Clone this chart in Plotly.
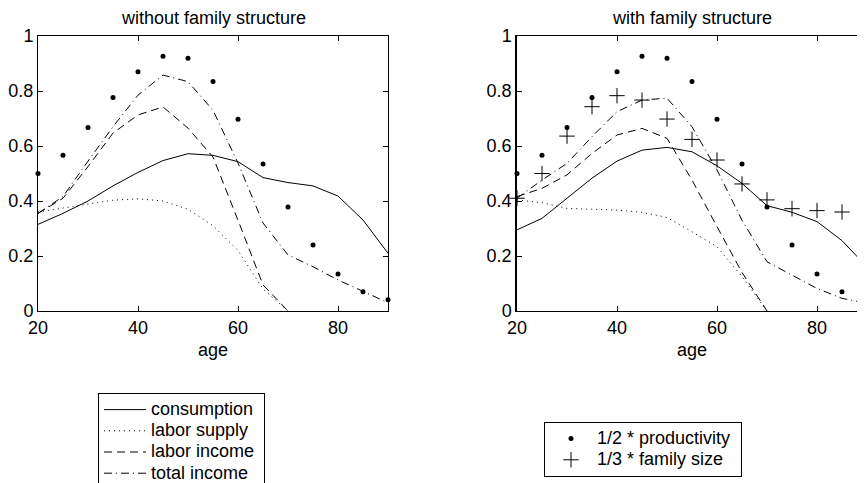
import plotly.graph_objects as go

# ---------------- data ----------------
age = [20, 25, 30, 35, 40, 45, 50, 55, 60, 65, 70, 75, 80, 85, 90]
age_work = [20, 25, 30, 35, 40, 45, 50, 55, 60, 65, 70]

productivity_half = [0.50, 0.566, 0.667, 0.776, 0.870, 0.926, 0.919, 0.835,
                     0.697, 0.535, 0.378, 0.240, 0.135, 0.070, 0.041]

# without family structure
cons_nf = [0.315, 0.355, 0.400, 0.455, 0.504, 0.547, 0.572, 0.566, 0.543,
           0.485, 0.467, 0.455, 0.418, 0.331, 0.210]
lsup_nf = [0.360, 0.375, 0.390, 0.403, 0.408, 0.400, 0.370, 0.310, 0.220,
           0.080, 0.0]
linc_nf = [0.355, 0.410, 0.525, 0.647, 0.713, 0.742, 0.665, 0.560, 0.330,
           0.095, 0.0]
tinc_nf = [0.355, 0.416, 0.545, 0.670, 0.785, 0.858, 0.834, 0.730, 0.538,
           0.320, 0.204, 0.161, 0.113, 0.070, 0.030]

# with family structure
cons_f = [0.295, 0.337, 0.410, 0.483, 0.545, 0.585, 0.595, 0.579, 0.528,
          0.464, 0.383, 0.359, 0.325, 0.256, 0.160]
lsup_f = [0.404, 0.394, 0.373, 0.371, 0.367, 0.359, 0.340, 0.288, 0.234,
          0.125, 0.0]
linc_f = [0.416, 0.446, 0.495, 0.573, 0.640, 0.664, 0.628, 0.476, 0.307,
          0.140, 0.0]
tinc_f = [0.410, 0.476, 0.537, 0.634, 0.725, 0.767, 0.774, 0.670, 0.513,
          0.330, 0.179, 0.131, 0.082, 0.046, 0.028]
famsize_third = [0.410, 0.500, 0.636, 0.743, 0.783, 0.767, 0.698, 0.624,
                 0.549, 0.462, 0.404, 0.372, 0.365, 0.360, 0.355]

x_ticks = [20, 40, 60, 80]
y_ticks = [0, 0.2, 0.4, 0.6, 0.8, 1]
y_tick_text = ["0", "0.2", "0.4", "0.6", "0.8", "1"]

# ---------------- styles ----------------
FONT = "Liberation Sans, Arial, Helvetica, sans-serif"
FS = 18
OFF = 8                    # page offset of the plot div
WIN_W, WIN_H = 865, 483
W, H = WIN_W - OFF, WIN_H - OFF
DASH = "8px,5px"
DASHDOT = "8px,4px,1px,4px"
DOT = "1px,4px"

def big(s, pad=0):
    return '<span style="font-size:%dpx">%s%s</span>' % (FS, s, "&nbsp;" * pad)

fig = go.Figure()

def add_lines(xa, ya, cons, lsup, linc, tinc, legend, showleg):
    fig.add_trace(go.Scatter(x=age, y=cons, mode="lines", name=big("consumption", 1),
                             line=dict(color="black", width=1),
                             xaxis=xa, yaxis=ya, legend=legend, showlegend=showleg))
    fig.add_trace(go.Scatter(x=age_work, y=lsup, mode="lines", name=big("labor supply"),
                             line=dict(color="black", width=1, dash=DOT),
                             xaxis=xa, yaxis=ya, legend=legend, showlegend=showleg))
    fig.add_trace(go.Scatter(x=age_work, y=linc, mode="lines", name=big("labor income"),
                             line=dict(color="black", width=1, dash=DASH),
                             xaxis=xa, yaxis=ya, legend=legend, showlegend=showleg))
    fig.add_trace(go.Scatter(x=age, y=tinc, mode="lines", name=big("total income"),
                             line=dict(color="black", width=1, dash=DASHDOT),
                             xaxis=xa, yaxis=ya, legend=legend, showlegend=showleg))

# left panel
add_lines("x", "y", cons_nf, lsup_nf, linc_nf, tinc_nf, "legend", True)
fig.add_trace(go.Scatter(x=age, y=productivity_half, mode="markers",
                         marker=dict(symbol="circle", size=5, color="black"),
                         cliponaxis=False, xaxis="x", yaxis="y", showlegend=False))

# right panel
add_lines("x2", "y2", cons_f, lsup_f, linc_f, tinc_f, "legend2", False)
fig.add_trace(go.Scatter(x=age, y=productivity_half, mode="markers",
                         name=big("1/2 * productivity", 1),
                         marker=dict(symbol="circle", size=5, color="black"),
                         cliponaxis=False, xaxis="x2", yaxis="y2",
                         legend="legend2", showlegend=True))
fig.add_trace(go.Scatter(x=age, y=famsize_third, mode="markers",
                         name=big("1/3 * family size"),
                         marker=dict(symbol="cross-thin", size=11,
                                     line=dict(color="black", width=1)),
                         cliponaxis=False, xaxis="x2", yaxis="y2",
                         legend="legend2", showlegend=True))

# ---------------- geometry (window pixels -> paper) ----------------
def px(xp):
    return (xp - OFF) / W

def py(yp):
    return (H - (yp - OFF)) / H

top, bottom = 36, 311
L0, L1 = 38, 388
R0, R1 = 517, 867

common_x = dict(showline=True, linecolor="black", linewidth=1, mirror="ticks",
                ticks="inside", ticklen=5, tickcolor="black", showgrid=False,
                zeroline=False, tickvals=x_ticks,
                tickfont=dict(family=FONT, size=FS, color="black"))
common_y = dict(showline=True, linecolor="black",
                ticks="inside", ticklen=5, tickcolor="black", showgrid=False,
                zeroline=False, tickvals=y_ticks, ticktext=y_tick_text,
                range=[0, 1], tickfont=dict(family=FONT, size=FS, color="black"))

right_end = 20 + (WIN_W - R0) / 5.0

def ann(text, x, y):
    return dict(text=text, x=px(x), y=py(y), xref="paper", yref="paper",
                xanchor="center", yanchor="middle", showarrow=False,
                font=dict(family=FONT, size=FS, color="black"))

fig.update_layout(
    width=W, height=H,
    margin=dict(l=0, r=0, t=0, b=0, autoexpand=False),
    paper_bgcolor="white", plot_bgcolor="white",
    xaxis=dict(domain=[px(L0), px(L1)], range=[20, 90], anchor="y", **common_x),
    yaxis=dict(domain=[py(bottom), py(top)], anchor="x", mirror="ticks",
               linewidth=1, **common_y),
    xaxis2=dict(domain=[px(R0), 1.0], range=[20, right_end], anchor="y2", **common_x),
    yaxis2=dict(domain=[py(bottom), py(top)], anchor="x2", mirror=False,
                linewidth=1.5, **common_y),
    yaxis3=dict(domain=[py(bottom), py(top)], anchor="x2", overlaying="y2",
                side="right", showline=False, ticks="inside", ticklen=5,
                tickcolor="black", showticklabels=False, showgrid=False,
                zeroline=False, tickvals=y_ticks, range=[0, 1]),
    legend=dict(x=px(98), y=py(393), xanchor="left", yanchor="top",
                bordercolor="black", borderwidth=1, bgcolor="white",
                font=dict(family=FONT, size=14, color="black"),
                tracegroupgap=0, itemwidth=42),
    legend2=dict(x=px(544), y=py(422), xanchor="left", yanchor="top",
                 bordercolor="black", borderwidth=1, bgcolor="white",
                 font=dict(family=FONT, size=14, color="black"),
                 tracegroupgap=0, itemwidth=42),
    annotations=[
        ann("without family structure", (L0 + L1) / 2, 18),
        ann("with family structure", (R0 + R1) / 2, 18),
        ann("age", (L0 + L1) / 2, 350),
        ann("age", (R0 + R1) / 2, 350),
    ],
)

# invisible trace to activate the right-side tick axis of the right panel
fig.add_trace(go.Scatter(x=[20], y=[0], mode="markers", marker=dict(opacity=0),
                         xaxis="x2", yaxis="y3", showlegend=False, hoverinfo="skip"))

fig.write_html("out.html")
